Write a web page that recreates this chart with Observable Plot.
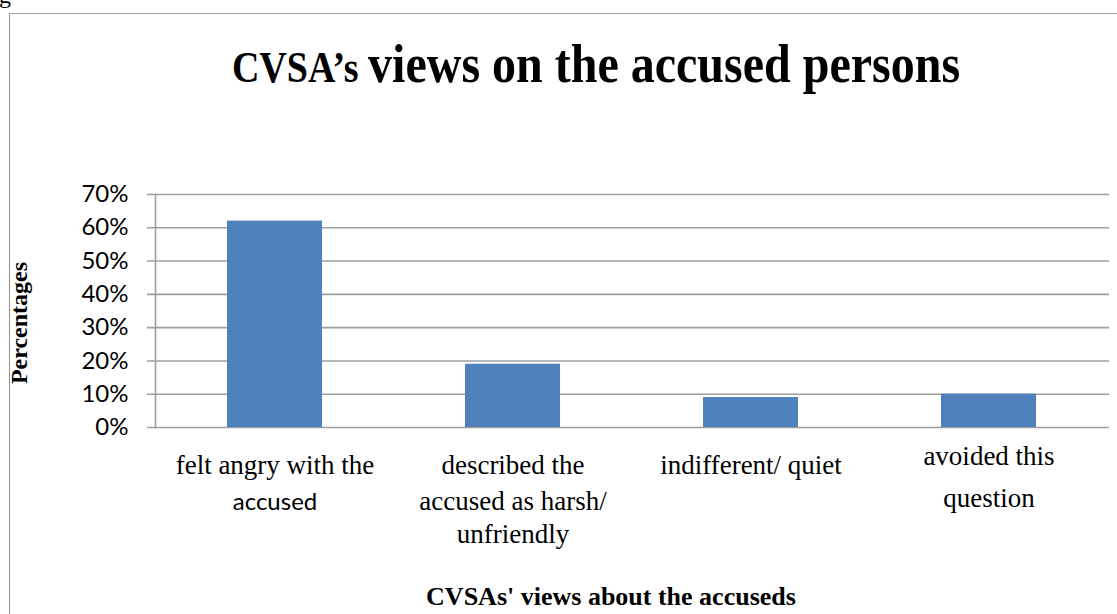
<!DOCTYPE html>
<html>
<head>
<meta charset="utf-8">
<script src="https://cdn.jsdelivr.net/npm/d3@7"></script>
<script src="https://cdn.jsdelivr.net/npm/@observablehq/plot@0.6"></script>
<style>
  html, body { margin: 0; padding: 0; background: #fff; }
  #wrap { position: relative; width: 1117px; height: 614px; overflow: hidden; background: #fff; }
  #wrap svg { position: absolute; left: 0; top: 0; }
  .frame { position: absolute; left: 9px; top: 13px; width: 1200px; height: 700px;
           border-left: 1.5px solid #8f8f8f; border-top: 1.5px solid #a0a0a0; }
  .title { position: absolute; left: 0; width: 1192px; top: 42px; text-align: center;
           font-family: "Liberation Serif", serif; font-weight: bold; line-height: 1; white-space: nowrap;
           transform: scaleY(1.14); transform-origin: 50% 40px; }
  .xtitle { position: absolute; left: 0; width: 1222px; top: 584px; text-align: center;
            font: bold 26px/1 "Liberation Serif", serif; white-space: nowrap; }
  .ytitle { position: absolute; left: 18.5px; top: 323px; transform: translate(-50%, -50%) rotate(-90deg);
            font: bold 24px/1 "Liberation Serif", serif; white-space: nowrap; }
  .fig { position: absolute; left: -1px; top: -17px; font: 24px/1 "Liberation Serif", serif; }
</style>
</head>
<body>
<div id="wrap"></div>
<script>
// ---- data ----
const categories = [
  "felt angry with the accused",
  "described the accused as harsh/ unfriendly",
  "indifferent/ quiet",
  "avoided this question"
];
const values = [0.62, 0.19, 0.09, 0.10];
const labelLines = [
  ["felt angry with the", "accused"],
  ["described the", "accused as harsh/", "unfriendly"],
  ["indifferent/ quiet"],
  ["avoided this", "question"]
];
const yTicks = [0, 0.1, 0.2, 0.3, 0.4, 0.5, 0.6, 0.7];
const titleSmall = "CVSA’s";
const titleBig = "views on the accused persons";
const xTitle = "CVSAs' views about the accuseds";
const yTitle = "Percentages";

// ---- build ----
const data = categories.map((c, i) => ({category: c, value: values[i]}));
const lines = [];
labelLines.forEach((ls, i) => ls.forEach((t, r) => lines.push({category: categories[i], text: t, row: r, cat: i})));
const isSans = (d) => d.cat === 0 && d.row === 1;
const rowOffsets = [46, 82, 115];
const lastRowOffsets = [37, 79];

const labelMarks = [];
rowOffsets.forEach((dy, r) => {
  const serif = lines.filter(d => d.row === r && d.cat !== 3 && !isSans(d));
  const sans = lines.filter(d => d.row === r && d.cat !== 3 && isSans(d));
  if (serif.length) labelMarks.push(Plot.text(serif, {x: "category", text: "text", frameAnchor: "bottom", dy,
    fontSize: 27, fontFamily: "Liberation Serif", fill: "black"}));
  if (sans.length) labelMarks.push(Plot.text(sans, {x: "category", text: "text", frameAnchor: "bottom", dy,
    fontSize: 24, fontFamily: "Lato", fill: "black"}));
});
lastRowOffsets.forEach((dy, r) => {
  const rows = lines.filter(d => d.row === r && d.cat === 3);
  if (rows.length) labelMarks.push(Plot.text(rows, {x: "category", text: "text", frameAnchor: "bottom", dy,
    fontSize: 27, fontFamily: "Liberation Serif", fill: "black"}));
});

const chart = Plot.plot({
  width: 1117,
  height: 614,
  marginTop: 194,
  marginBottom: 187,
  marginLeft: 155,
  marginRight: 8,
  style: {background: "transparent", color: "black"},
  x: {domain: categories, paddingInner: 0.6, paddingOuter: 0.3, axis: null},
  y: {domain: [0, 0.7], axis: null},
  marks: [
    Plot.ruleY(yTicks, {y: d => d, stroke: "#9e9e9e", strokeWidth: 1.6, insetLeft: -8}),
    Plot.barY(data, {x: "category", y: "value", fill: "#4f81bd"}),
    Plot.frame({anchor: "left", stroke: "#9e9e9e", strokeWidth: 1.6}),
    Plot.axisY({ticks: yTicks, tickFormat: d => Math.round(d * 100) + "%", tickSize: 0, tickPadding: 27,
                fontSize: 24, fontFamily: "Lato", fill: "black", label: null}),
    ...labelMarks
  ]
});

const wrap = document.getElementById("wrap");
wrap.appendChild(chart);

const frame = document.createElement("div");
frame.className = "frame";
wrap.appendChild(frame);

const fig = document.createElement("div");
fig.className = "fig";
fig.textContent = "g";
wrap.appendChild(fig);

const title = document.createElement("div");
title.className = "title";
const s1 = document.createElement("span");
s1.style.fontSize = "38px";
s1.textContent = titleSmall + " ";
const s2 = document.createElement("span");
s2.style.fontSize = "48px";
s2.textContent = titleBig;
title.appendChild(s1);
title.appendChild(s2);
wrap.appendChild(title);

const xt = document.createElement("div");
xt.className = "xtitle";
xt.textContent = xTitle;
wrap.appendChild(xt);

const yt = document.createElement("div");
yt.className = "ytitle";
yt.textContent = yTitle;
wrap.appendChild(yt);
</script>
</body>
</html>
